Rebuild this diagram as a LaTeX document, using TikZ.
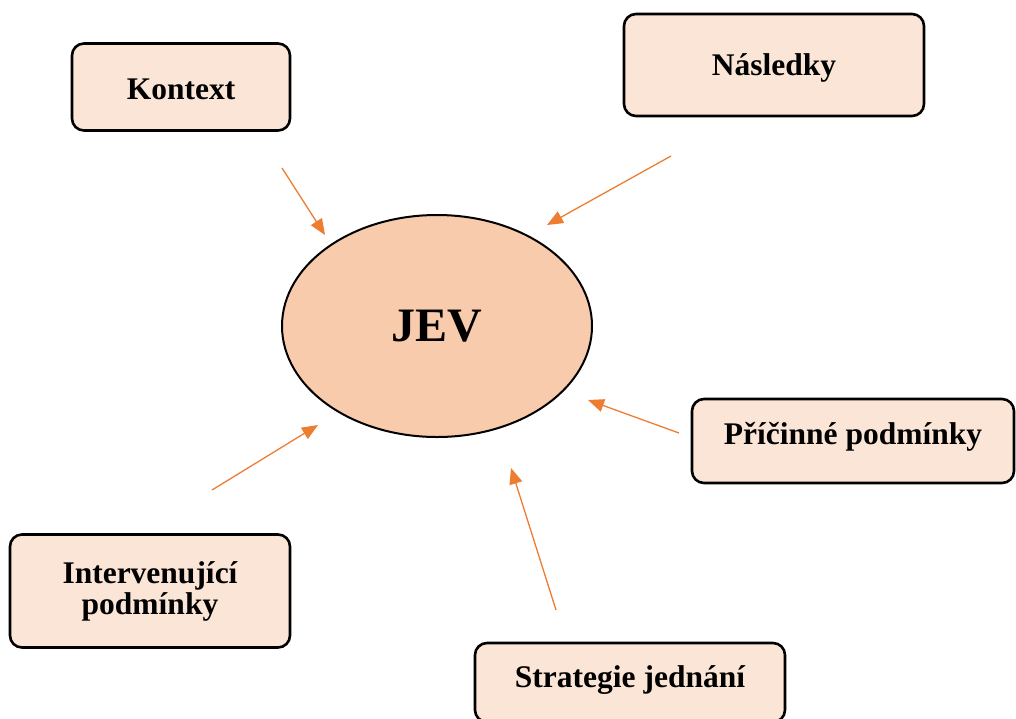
\documentclass[tikz,border=0pt]{standalone}
\usepackage{fontspec}
\setmainfont{Liberation Serif}
\usepackage{xcolor}
\usepackage{tikz}
\usetikzlibrary{positioning,arrows.meta,shapes.geometric}
\definecolor{accent}{HTML}{ED7D31}
\definecolor{boxfill}{HTML}{FBE5D6}
\definecolor{jevfill}{HTML}{F8CBAD}
\tikzset{
  % --- category boxes round the phenomenon ---
  catbox/.style={draw=black, line width=2.6pt, rounded corners=12pt,
                 fill=boxfill, align=center, inner sep=0pt,
                 text height=21.5pt, text depth=0pt,
                 font=\fontsize{31.5}{31}\selectfont\bfseries},
  % --- central phenomenon ---
  jevnode/.style={ellipse, draw=black, line width=2pt, fill=jevfill,
                  minimum width=310pt, minimum height=222pt, inner sep=0pt,
                  font=\fontsize{48}{56}\selectfont\bfseries},
  % --- influence arrows ---
  influence/.style={draw=accent, line width=1.3pt,
                    -{Triangle[length=16pt,width=13pt,fill=accent]}},
}
\begin{document}
\begin{tikzpicture}[x=1pt,y=-1pt]
  \useasboundingbox (0,0) rectangle (1016,718);
  \node[jevnode] (jev) at (437,326) {JEV};
  \node[catbox, minimum width=218pt, minimum height=87pt, text height=24.5pt] (kontext) at (181,87) {Kontext};
  \node[catbox, minimum width=300pt, minimum height=102pt] (nasledky) at (774,65) {Následky};
  \node[catbox, minimum width=322pt, minimum height=84pt, text depth=14pt] (pricinne) at (853,441) {Příčinné podmínky};
  \node[catbox, minimum width=310pt, minimum height=79pt, text depth=12pt] (strategie) at (630,682.5) {Strategie jednání};
  \node[catbox, minimum width=280pt, minimum height=113pt, text height=, text depth=] (intervenujici) at (150,591) {Intervenující\\podmínky};
  % free ends of the arrows
  \coordinate (k1) at (282,168);  \coordinate (k2) at (325,235);
  \coordinate (n1) at (671,156);  \coordinate (n2) at (547,225);
  \coordinate (p1) at (679,433);  \coordinate (p2) at (588,400);
  \coordinate (s1) at (556,610);  \coordinate (s2) at (511,468);
  \coordinate (i1) at (212,490);  \coordinate (i2) at (318,425);
  \draw[influence] (k1) -- (k2);
  \draw[influence] (n1) -- (n2);
  \draw[influence] (p1) -- (p2);
  \draw[influence] (s1) -- (s2);
  \draw[influence] (i1) -- (i2);
\end{tikzpicture}
\end{document}
